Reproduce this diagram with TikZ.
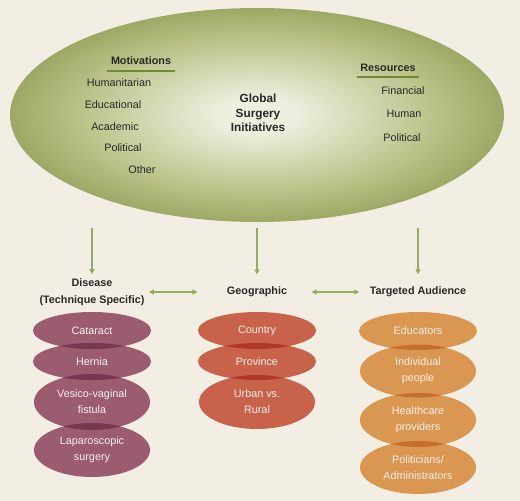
\documentclass[tikz,border=0pt]{standalone}
\usepackage{fontspec}
\setmainfont{Liberation Sans}
\usepackage{xcolor}
\usepackage{tikz}
\usetikzlibrary{calc,arrows.meta,positioning,shapes.geometric}
\definecolor{gsBack}{RGB}{242,238,228}
\definecolor{gsOlive}{RGB}{136,150,76}
\definecolor{gsOliveMid}{RGB}{186,194,136}
\definecolor{gsLight}{RGB}{238,238,222}
\definecolor{gsLine}{RGB}{110,138,52}
\definecolor{gsArrow}{RGB}{146,172,98}
\definecolor{gsText}{RGB}{40,40,40}
\definecolor{gsPlum}{RGB}{155,92,112}
\definecolor{gsPlumDark}{RGB}{118,56,80}
\definecolor{gsRed}{RGB}{201,98,74}
\definecolor{gsRedDark}{RGB}{176,56,40}
\definecolor{gsOrange}{RGB}{217,151,82}
\definecolor{gsOrangeDark}{RGB}{198,110,44}
\definecolor{gsPale}{RGB}{250,240,234}
\pgfdeclareradialshading{gsglow}{\pgfpoint{0bp}{0bp}}{%
  color(0bp)=(gsLight); color(4bp)=(gsLight); color(18bp)=(gsOliveMid);
  color(30bp)=(gsOlive); color(50bp)=(gsOlive)}

\tikzset{
  lbl/.style={text=gsText, font=\fontsize{10.8}{15}\selectfont},
  head/.style={text=gsText, font=\fontsize{10.8}{16.5}\selectfont\bfseries, align=center},
  blob/.style={ellipse, inner sep=0pt, outer sep=0pt, minimum width=118,
    text=gsPale, align=center, font=\fontsize{10.8}{16}\selectfont},
  flow/.style={gsArrow, line width=1.3pt, -{Triangle[length=5pt,width=5pt]}},
  flowboth/.style={gsArrow, line width=1.3pt,
    {Triangle[length=5pt,width=5pt]}-{Triangle[length=5pt,width=5pt]}}
}

\begin{document}
\begin{tikzpicture}[x=1pt,y=-1pt]
\useasboundingbox[fill=gsBack] (0,0) rectangle (520,501);

% initiatives
\node[ellipse, shading=gsglow, minimum width=494, minimum height=214,
  inner sep=0pt, outer sep=0pt] (gsi) at (257,115) {};
\node[head, font=\fontsize{11.8}{14.5}\selectfont\bfseries] (core) at (258,113)
  {Global\\Surgery\\Initiatives};

\node[head] (mot) at (141,61) {Motivations};
\draw[gsLine, line width=2pt] ([yshift=-2]mot.south west) -- ([yshift=-2]mot.south east);
\node[lbl] (hum) at (119,83) {Humanitarian};
\node[lbl] (edc) at (113,105) {Educational};
\node[lbl] (aca) at (115,127) {Academic};
\node[lbl] (pli) at (123,148) {Political};
\node[lbl] (oth) at (142,170) {Other};

\node[head] (res) at (388,68) {Resources};
\draw[gsLine, line width=2pt] ([yshift=-2]res.south west) -- ([yshift=-2]res.south east);
\node[lbl] (fin) at (403,91) {Financial};
\node[lbl] (hmn) at (404,114) {Human};
\node[lbl] (plr) at (402,138) {Political};

% categories
\node[head] (dis) at (92,292) {Disease\\(Technique Specific)};
\node[head] (geo) at (257,292) {Geographic};
\node[head] (aud) at (418,292) {Targeted Audience};

\draw[flow] ([yshift=-6]gsi.south -| dis.north) -- ([yshift=1]dis.north);
\draw[flow] ([yshift=-6]gsi.south) -- ([yshift=9]geo.north);
\draw[flow] ([yshift=-6]gsi.south -| aud.north) -- ([yshift=9]aud.north);
\draw[flowboth] ([xshift=1]dis.east |- geo.west) -- ([xshift=-26]geo.west);
\draw[flowboth] ([xshift=21]geo.east) -- ([xshift=-7]aud.west);

% disease stack
\node[blob, fill=gsPlum, minimum height=37] (cat) at (92,330.5) {Cataract};
\node[blob, fill=gsPlum, minimum height=37] (her) at (92,361.5) {Hernia};
\node[blob, fill=gsPlum, minimum width=116, minimum height=56] (ves) at (92,402) {Vesico-vaginal\\fistula};
\node[blob, fill=gsPlum, minimum width=116, minimum height=54] (lap) at (92,450) {Laparoscopic\\surgery};

% geographic stack
\node[blob, fill=gsRed, minimum height=37] (cty) at (257,330.5) {Country};
\node[blob, fill=gsRed, minimum height=37] (prv) at (257,361.5) {Province};
\node[blob, fill=gsRed, minimum width=116, minimum height=54] (urb) at (257,402) {Urban vs.\\Rural};

% audience stack
\node[blob, fill=gsOrange, minimum height=38] (edu) at (418,331) {Educators};
\node[blob, fill=gsOrange, minimum width=116, minimum height=53] (ind) at (418,371) {Individual\\people};
\node[blob, fill=gsOrange, minimum width=116, minimum height=54] (hcp) at (418,420) {Healthcare\\providers};
\node[blob, fill=gsOrange, minimum width=116, minimum height=53] (pol) at (418,467.5) {Politicians/\\Administrators};

% darker overlaps
\foreach \a/\ra/\sa/\b/\rb/\sb/\c in {
    cat/59/18.5/her/59/18.5/gsPlumDark, her/59/18.5/ves/58/28/gsPlumDark,
    ves/58/28/lap/58/27/gsPlumDark,
    cty/59/18.5/prv/59/18.5/gsRedDark, prv/59/18.5/urb/58/27/gsRedDark,
    edu/59/19/ind/58/26.5/gsOrangeDark, ind/58/26.5/hcp/58/27/gsOrangeDark,
    hcp/58/27/pol/58/26.5/gsOrangeDark} {
  \begin{scope}
    \clip (\a.center) ellipse [x radius=\ra, y radius=\sa];
    \fill[\c] (\b.center) ellipse [x radius=\rb, y radius=\sb];
  \end{scope}
}
\end{tikzpicture}
\end{document}
